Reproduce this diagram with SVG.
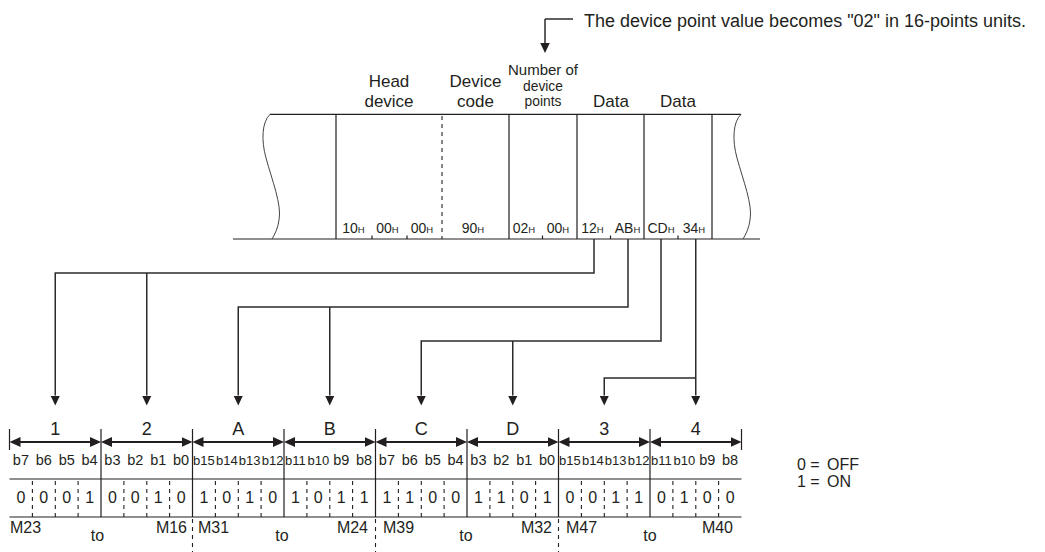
<svg xmlns="http://www.w3.org/2000/svg" width="1045" height="552" viewBox="0 0 1045 552">
<style>
.t{font-family:'Liberation Sans',Arial,sans-serif;fill:#231f20}
.m{text-anchor:middle}
.e{text-anchor:end}
.ln{stroke:#231f20;stroke-width:1.2;fill:none}
.cn{stroke:#2b2b2b;stroke-width:1.5;fill:none}
.dash{stroke:#231f20;stroke-width:1.1;fill:none;stroke-dasharray:4 4}
.h{font-size:17px}
.np{font-size:13.8px}
.hex{font-size:14px}
.sub{font-size:9.5px}
.lab{font-size:18px}
.b1{font-size:14.5px}
.b2{font-size:13px}
.dg{font-size:16px}
.ml{font-size:16px}
.da{stroke:#231f20;stroke-width:2;fill:none}
</style>
<defs>
<marker id="ad" markerUnits="userSpaceOnUse" markerWidth="11" markerHeight="11" refX="0" refY="4.75" orient="auto"><path d="M0,0 L10,4.75 L0,9.5 z" fill="#231f20"/></marker>
<marker id="dh" markerUnits="userSpaceOnUse" markerWidth="12" markerHeight="11" refX="5" refY="5" orient="auto-start-reverse"><path d="M0,0 L11,5 L0,10 z" fill="#231f20"/></marker>
</defs>
<rect width="1045" height="552" fill="#ffffff"/>

<g id="note">
<text class="t" x="584" y="27" style="font-size:18px">The device point value becomes "02" in 16-points units.</text>
</g>

<g id="frame">
<path class="ln" d="M270,114.3 H741 M233,239 H760 M336,114.3 V239 M509,114.3 V239 M577,114.3 V239 M644,114.3 V239 M712,114.3 V239"/>
<path class="dash" d="M442,116 V239"/>
<path class="ln" d="M372,235.5 V239 M407,235.5 V239 M542.5,235.5 V239 M610.5,235.5 V239 M678,235.5 V239"/>
<path d="M270,114.3 C262,122 261,140 266,158 C272,180 282,205 279,220 C278,228 275,234 272,239" stroke="#444" stroke-width="1" fill="none"/>
<path d="M741,114.3 C733,122 732,140 737,158 C743,180 753,205 750,220 C749,228 746,234 743,239" stroke="#444" stroke-width="1" fill="none"/>
</g>

<g id="field-head">
<text class="t h m" x="389" y="87">Head</text>
<text class="t h m" x="389" y="107">device</text>
<text class="t hex m" x="353.5" y="233">10<tspan class="sub">H</tspan></text>
<text class="t hex m" x="387.5" y="233">00<tspan class="sub">H</tspan></text>
<text class="t hex m" x="422" y="233">00<tspan class="sub">H</tspan></text>
</g>
<g id="field-code">
<text class="t h m" x="475.5" y="87">Device</text>
<text class="t h m" x="475.5" y="107">code</text>
<text class="t hex m" x="473" y="233">90<tspan class="sub">H</tspan></text>
</g>
<g id="field-points">
<text class="t np m" x="543" y="75" textLength="70" lengthAdjust="spacingAndGlyphs">Number of</text>
<text class="t np m" x="543" y="90.5">device</text>
<text class="t np m" x="543" y="106">points</text>
<text class="t hex m" x="524" y="233">02<tspan class="sub">H</tspan></text>
<text class="t hex m" x="558" y="233">00<tspan class="sub">H</tspan></text>
</g>
<g id="field-data1">
<text class="t h m" x="611" y="107">Data</text>
<text class="t hex m" x="592.5" y="233">12<tspan class="sub">H</tspan></text>
<text class="t hex m" x="627.5" y="233">AB<tspan class="sub">H</tspan></text>
</g>
<g id="field-data2">
<text class="t h m" x="678" y="107">Data</text>
<text class="t hex m" x="661" y="233">CD<tspan class="sub">H</tspan></text>
<text class="t hex m" x="694" y="233">34<tspan class="sub">H</tspan></text>
</g>

<g id="connectors">
<path class="cn" d="M545,19 H573"/>
<path class="cn" d="M545,19 V43" marker-end="url(#ad)"/>
<path class="cn" d="M594,239 V273 H55.25 V395.5" marker-end="url(#ad)"/>
<path class="cn" d="M146.75,273 V395.5" marker-end="url(#ad)"/>
<path class="cn" d="M628,239 V307 H238.25 V395.5" marker-end="url(#ad)"/>
<path class="cn" d="M329.75,307 V395.5" marker-end="url(#ad)"/>
<path class="cn" d="M661,239 V341 H421.25 V395.5" marker-end="url(#ad)"/>
<path class="cn" d="M512.75,341 V395.5" marker-end="url(#ad)"/>
<path class="cn" d="M695.75,239 V395.5" marker-end="url(#ad)"/>
<path class="cn" d="M695.75,378 H604.25 V395.5" marker-end="url(#ad)"/>
</g>

<g id="bit-table">
<path class="ln" d="M9.5,479 H741.5 M9.5,517 H741.5"/>
<path class="ln" d="M9.5,429 V450 M741.5,429 V450 M101,429 V517 M192.5,429 V517 M284,429 V517 M375.5,429 V517 M467,429 V517 M558.5,429 V517 M650,429 V517"/>
<path class="dash" d="M192.5,519 V552 M375.5,519 V552 M558.5,519 V552"/>
<path class="dash" d="M32.4,481 V517 M55.3,481 V517 M78.1,481 V517 M123.9,481 V517 M146.8,481 V517 M169.6,481 V517 M215.4,481 V517 M238.3,481 V517 M261.1,481 V517 M306.9,481 V517 M329.8,481 V517 M352.6,481 V517 M398.4,481 V517 M421.3,481 V517 M444.1,481 V517 M489.9,481 V517 M512.8,481 V517 M535.6,481 V517 M581.4,481 V517 M604.3,481 V517 M627.1,481 V517 M672.9,481 V517 M695.8,481 V517 M718.6,481 V517"/>
</g>

<g id="nibble-1">
<text class="t lab m" x="55.25" y="434.5">1</text>
<path class="da" d="M15.5,442 H95" marker-start="url(#dh)" marker-end="url(#dh)"/>
<text class="t b1 m" x="20.9" y="465">b7</text><text class="t b1 m" x="43.8" y="465">b6</text><text class="t b1 m" x="66.7" y="465">b5</text><text class="t b1 m" x="89.6" y="465">b4</text>
<text class="t dg m" x="20.9" y="503">0</text><text class="t dg m" x="43.8" y="503">0</text><text class="t dg m" x="66.7" y="503">0</text><text class="t dg m" x="89.6" y="503">1</text>
</g>
<g id="nibble-2">
<text class="t lab m" x="146.75" y="434.5">2</text>
<path class="da" d="M107,442 H186.5" marker-start="url(#dh)" marker-end="url(#dh)"/>
<text class="t b1 m" x="112.4" y="465">b3</text><text class="t b1 m" x="135.3" y="465">b2</text><text class="t b1 m" x="158.2" y="465">b1</text><text class="t b1 m" x="181.1" y="465">b0</text>
<text class="t dg m" x="112.4" y="503">0</text><text class="t dg m" x="135.3" y="503">0</text><text class="t dg m" x="158.2" y="503">1</text><text class="t dg m" x="181.1" y="503">0</text>
</g>
<g id="nibble-A">
<text class="t lab m" x="238.25" y="434.5">A</text>
<path class="da" d="M198.5,442 H278" marker-start="url(#dh)" marker-end="url(#dh)"/>
<text class="t b2 m" x="203.9" y="465">b15</text><text class="t b2 m" x="226.8" y="465">b14</text><text class="t b2 m" x="249.7" y="465">b13</text><text class="t b2 m" x="272.6" y="465">b12</text>
<text class="t dg m" x="203.9" y="503">1</text><text class="t dg m" x="226.8" y="503">0</text><text class="t dg m" x="249.7" y="503">1</text><text class="t dg m" x="272.6" y="503">0</text>
</g>
<g id="nibble-B">
<text class="t lab m" x="329.75" y="434.5">B</text>
<path class="da" d="M290,442 H369.5" marker-start="url(#dh)" marker-end="url(#dh)"/>
<text class="t b2 m" x="295.4" y="465">b11</text><text class="t b2 m" x="318.3" y="465">b10</text><text class="t b1 m" x="341.2" y="465">b9</text><text class="t b1 m" x="364.1" y="465">b8</text>
<text class="t dg m" x="295.4" y="503">1</text><text class="t dg m" x="318.3" y="503">0</text><text class="t dg m" x="341.2" y="503">1</text><text class="t dg m" x="364.1" y="503">1</text>
</g>
<g id="nibble-C">
<text class="t lab m" x="421.25" y="434.5">C</text>
<path class="da" d="M381.5,442 H461" marker-start="url(#dh)" marker-end="url(#dh)"/>
<text class="t b1 m" x="386.9" y="465">b7</text><text class="t b1 m" x="409.8" y="465">b6</text><text class="t b1 m" x="432.7" y="465">b5</text><text class="t b1 m" x="455.6" y="465">b4</text>
<text class="t dg m" x="386.9" y="503">1</text><text class="t dg m" x="409.8" y="503">1</text><text class="t dg m" x="432.7" y="503">0</text><text class="t dg m" x="455.6" y="503">0</text>
</g>
<g id="nibble-D">
<text class="t lab m" x="512.75" y="434.5">D</text>
<path class="da" d="M473,442 H552.5" marker-start="url(#dh)" marker-end="url(#dh)"/>
<text class="t b1 m" x="478.4" y="465">b3</text><text class="t b1 m" x="501.3" y="465">b2</text><text class="t b1 m" x="524.2" y="465">b1</text><text class="t b1 m" x="547.1" y="465">b0</text>
<text class="t dg m" x="478.4" y="503">1</text><text class="t dg m" x="501.3" y="503">1</text><text class="t dg m" x="524.2" y="503">0</text><text class="t dg m" x="547.1" y="503">1</text>
</g>
<g id="nibble-3">
<text class="t lab m" x="604.25" y="434.5">3</text>
<path class="da" d="M564.5,442 H644" marker-start="url(#dh)" marker-end="url(#dh)"/>
<text class="t b2 m" x="569.9" y="465">b15</text><text class="t b2 m" x="592.8" y="465">b14</text><text class="t b2 m" x="615.7" y="465">b13</text><text class="t b2 m" x="638.6" y="465">b12</text>
<text class="t dg m" x="569.9" y="503">0</text><text class="t dg m" x="592.8" y="503">0</text><text class="t dg m" x="615.7" y="503">1</text><text class="t dg m" x="638.6" y="503">1</text>
</g>
<g id="nibble-4">
<text class="t lab m" x="695.75" y="434.5">4</text>
<path class="da" d="M656,442 H735.5" marker-start="url(#dh)" marker-end="url(#dh)"/>
<text class="t b2 m" x="661.4" y="465">b11</text><text class="t b2 m" x="684.3" y="465">b10</text><text class="t b1 m" x="707.2" y="465">b9</text><text class="t b1 m" x="730.1" y="465">b8</text>
<text class="t dg m" x="661.4" y="503">0</text><text class="t dg m" x="684.3" y="503">1</text><text class="t dg m" x="707.2" y="503">0</text><text class="t dg m" x="730.1" y="503">0</text>
</g>

<g id="m-labels">
<text class="t ml" x="10" y="533">M23</text><text class="t ml m" x="97.5" y="541">to</text><text class="t ml e" x="187" y="533">M16</text>
<text class="t ml" x="198" y="533">M31</text><text class="t ml m" x="282" y="541">to</text><text class="t ml e" x="368" y="533">M24</text>
<text class="t ml" x="383" y="533">M39</text><text class="t ml m" x="466" y="541">to</text><text class="t ml e" x="552" y="533">M32</text>
<text class="t ml" x="566" y="533">M47</text><text class="t ml m" x="650" y="541">to</text><text class="t ml e" x="733" y="533">M40</text>
</g>

<g id="legend">
<text class="t ml" x="797" y="470">0 = <tspan x="827">OFF</tspan></text>
<text class="t ml" x="797" y="487">1 = <tspan x="827">ON</tspan></text>
</g>
</svg>
